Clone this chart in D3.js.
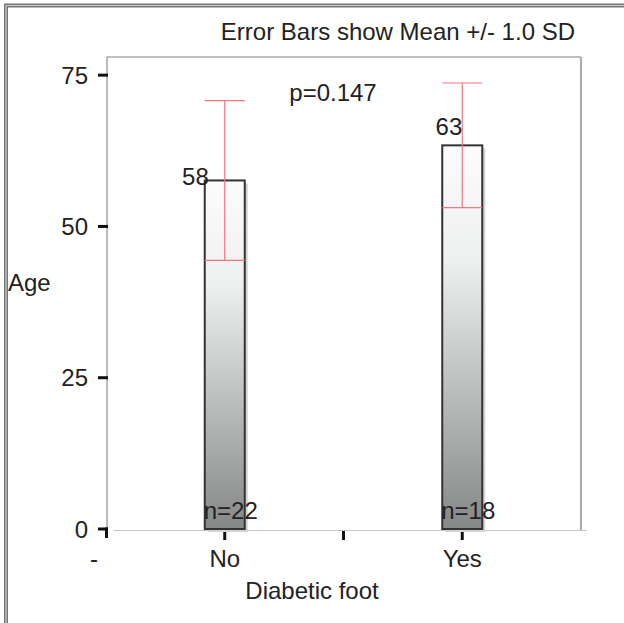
<!DOCTYPE html>
<html>
<head>
<meta charset="utf-8">
<script src="https://cdn.jsdelivr.net/npm/d3@7"></script>
<style>
  body { margin: 0; background: #fff; }
  svg text { font-family: "Liberation Sans", Arial, sans-serif; fill: #222; }
</style>
</head>
<body>
<svg id="chart" width="624" height="623"></svg>
<script>
var width = 624,
    height = 623;
const fontSize = 24;

// data
const categories = ["No", "Yes"];
const catPos = [1, 3];            // slot on the category axis
const means = [57.6, 63.4];
const sds = [13.2, 10.3];
const meanLabels = ["58", "63"];
const counts = [22, 18];
const yTicks = [0, 25, 50, 75];
const xTickSlots = [1, 2, 3];
const xTickLabels = [{ slot: 0, text: "-" }, { slot: 1, text: "No" }, { slot: 3, text: "Yes" }];
const pValue = "p=0.147";

const svg = d3.select("#chart");

var x = d3.scaleLinear().domain([0, 4]).range([106, 581]);
var y = d3.scaleLinear().domain([0, 78]).range([529, 57]);
const barHalf = 20;

// outer window border
svg.append("path")
    .attr("d", "M6,623 V5.5 H624")
    .attr("fill", "none")
    .attr("stroke", "#777")
    .attr("stroke-width", 4);
svg.append("path")
    .attr("d", "M6,623 V5.5 H624")
    .attr("fill", "none")
    .attr("stroke", "#ccc")
    .attr("stroke-width", 1.2);

// gradient for bars
var grad = svg.append("defs").append("linearGradient")
    .attr("id", "barfill")
    .attr("x1", 0).attr("y1", 0).attr("x2", 0).attr("y2", 1);
grad.append("stop").attr("offset", "0%").attr("stop-color", "#fcfcfc");
grad.append("stop").attr("offset", "30%").attr("stop-color", "#eeefef");
grad.append("stop").attr("offset", "100%").attr("stop-color", "#868888");

// plot frame
svg.append("line")
    .attr("x1", x(0) + 1).attr("x2", x(4))
    .attr("y1", y(78)).attr("y2", y(78))
    .attr("stroke", "#aaa").attr("stroke-width", 1.5);
svg.append("line")
    .attr("x1", x(4)).attr("x2", x(4))
    .attr("y1", y(78)).attr("y2", y(0) + 2)
    .attr("stroke", "#aaa").attr("stroke-width", 2);
svg.append("line")
    .attr("x1", x(0) + 8).attr("x2", x(4) + 6)
    .attr("y1", y(0) + 1.5).attr("y2", y(0) + 1.5)
    .attr("stroke", "#c4c4c4").attr("stroke-width", 1.2);
svg.append("line")
    .attr("x1", x(0) + 1).attr("x2", x(0) + 1)
    .attr("y1", y(78)).attr("y2", y(0))
    .attr("stroke", "#777").attr("stroke-width", 1);

// y axis ticks and labels
svg.append("g").selectAll("line")
    .data(yTicks)
    .join("line")
    .attr("x1", x(0) - 8).attr("x2", x(0) + 2)
    .attr("y1", d => y(d)).attr("y2", d => y(d))
    .attr("stroke", "#111").attr("stroke-width", 3);
svg.append("line")
    .attr("x1", x(0) + 0.5).attr("x2", x(0) + 0.5)
    .attr("y1", y(0) - 1.5).attr("y2", y(0) + 9)
    .attr("stroke", "#111").attr("stroke-width", 3);
svg.append("g").selectAll("text")
    .data(yTicks)
    .join("text")
    .attr("x", x(0) - 18)
    .attr("y", d => y(d) + 8.5)
    .attr("text-anchor", "end")
    .attr("font-size", fontSize)
    .text(d => d);

// x axis ticks and labels
svg.append("g").selectAll("line")
    .data(xTickSlots)
    .join("line")
    .attr("x1", d => x(d)).attr("x2", d => x(d))
    .attr("y1", y(0) + 2).attr("y2", y(0) + 11)
    .attr("stroke", "#111").attr("stroke-width", 3);
svg.append("g").selectAll("text")
    .data(xTickLabels)
    .join("text")
    .attr("x", d => d.slot === 0 ? x(d.slot) - 12 : x(d.slot))
    .attr("y", 567)
    .attr("text-anchor", "middle")
    .attr("font-size", fontSize)
    .text(d => d.text);

// bars
var bars = svg.append("g");
bars.selectAll("rect.shadow")
    .data(means)
    .join("rect")
    .attr("class", "shadow")
    .attr("x", (d, i) => x(catPos[i]) - barHalf + 3)
    .attr("y", d => y(d) + 3)
    .attr("width", barHalf * 2)
    .attr("height", d => y(0) - y(d))
    .attr("fill", "#d4d4d4");
bars.selectAll("rect.bar")
    .data(means)
    .join("rect")
    .attr("class", "bar")
    .attr("x", (d, i) => x(catPos[i]) - barHalf)
    .attr("y", d => y(d))
    .attr("width", barHalf * 2)
    .attr("height", d => y(0) - y(d))
    .attr("fill", "url(#barfill)")
    .attr("stroke", "#333")
    .attr("stroke-width", 2);

// error bars
var err = svg.append("g")
    .attr("stroke", "#f07880")
    .attr("stroke-width", 1.2);
err.selectAll("line.v")
    .data(means)
    .join("line")
    .attr("class", "v")
    .attr("x1", (d, i) => x(catPos[i])).attr("x2", (d, i) => x(catPos[i]))
    .attr("y1", (d, i) => y(d + sds[i])).attr("y2", (d, i) => y(d - sds[i]));
err.selectAll("line.top")
    .data(means)
    .join("line")
    .attr("class", "top")
    .attr("x1", (d, i) => x(catPos[i]) - barHalf).attr("x2", (d, i) => x(catPos[i]) + barHalf)
    .attr("y1", (d, i) => y(d + sds[i])).attr("y2", (d, i) => y(d + sds[i]));
err.selectAll("line.bot")
    .data(means)
    .join("line")
    .attr("class", "bot")
    .attr("x1", (d, i) => x(catPos[i]) - barHalf).attr("x2", (d, i) => x(catPos[i]) + barHalf)
    .attr("y1", (d, i) => y(d - sds[i])).attr("y2", (d, i) => y(d - sds[i]));

// mean labels (placed beside the error bar)
svg.append("g").selectAll("text")
    .data(means)
    .join("text")
    .attr("x", (d, i) => i === 0 ? x(catPos[i]) - barHalf + 4 : x(catPos[i]))
    .attr("y", (d, i) => i === 0 ? y(d) + 5 : y(d) - 10)
    .attr("text-anchor", "end")
    .attr("font-size", fontSize)
    .text((d, i) => meanLabels[i]);

// n labels
svg.append("g").selectAll("text")
    .data(counts)
    .join("text")
    .attr("x", (d, i) => x(catPos[i]) - barHalf - 1)
    .attr("y", y(0) - 10)
    .attr("font-size", fontSize)
    .text(d => "n=" + d);

// titles
svg.append("text")
    .attr("x", 575).attr("y", 40)
    .attr("text-anchor", "end")
    .attr("font-size", fontSize)
    .text("Error Bars show Mean +/- 1.0 SD");
svg.append("text")
    .attr("x", 333).attr("y", 101)
    .attr("text-anchor", "middle")
    .attr("font-size", fontSize)
    .text(pValue);
svg.append("text")
    .attr("x", 8).attr("y", 291)
    .attr("font-size", fontSize)
    .text("Age");
svg.append("text")
    .attr("x", 312).attr("y", 599)
    .attr("text-anchor", "middle")
    .attr("font-size", fontSize)
    .text("Diabetic foot");
</script>
</body>
</html>
